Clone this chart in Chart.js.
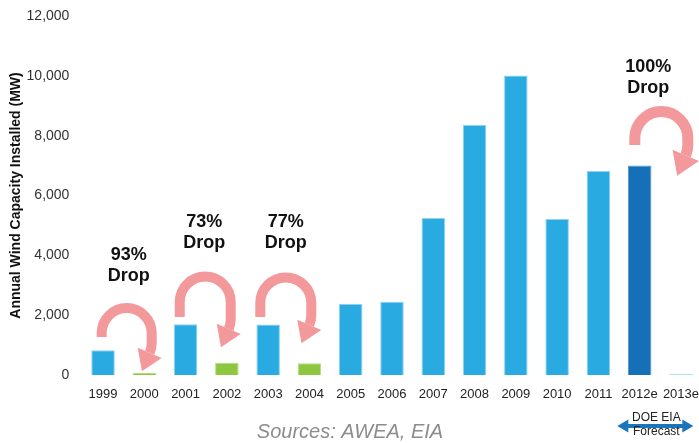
<!DOCTYPE html>
<html>
<head>
<meta charset="utf-8">
<script src="https://cdn.jsdelivr.net/npm/chart.js@4/dist/chart.umd.min.js"></script>
<style>
  html, body { margin: 0; padding: 0; overflow: hidden; background: #fff; }
  canvas { display: block; }
</style>
</head>
<body>
<canvas id="chart" width="704" height="443"></canvas>
<script>
'use strict';

// data
const years = ['1999', '2000', '2001', '2002', '2003', '2004', '2005', '2006',
  '2007', '2008', '2009', '2010', '2011', '2012e', '2013e'];
const installedMW = [830, 67, 1697, 410, 1687, 389, 2380, 2450,
  5249, 8358, 10010, 5214, 6816, 7000, 40];
const dropLabels = ['93%', '73%', '77%', '100%'];
const dropFrom = ['1999', '2001', '2003', '2012e'];

const blue = '#29abe2', green = '#8dc63f', navy = '#1570b8', pale = '#a8d8f2';
const pink = '#f4999b';
const barColors = [blue, green, blue, green, blue, green, blue, blue,
  blue, blue, blue, blue, blue, navy, pale];
const barBorders = barColors.map(c => c === green ? '#b5dc86' : c === navy ? '#4f93cc' : '#8fd2f1');

// where each curled arrow and its caption sit (value units on y, px shift on x)
const calloutPlace = [
  { arcAt: 1400, textAt: 4010, dx: 3, tx: 5, r: 25, lw: 10, leg: 4, drop: 10 },
  { arcAt: 2440, textAt: 5115, dx: -1, tx: -2, r: 25.5, lw: 10, leg: 15, drop: 17 },
  { arcAt: 2410, textAt: 5115, dx: -3, tx: -3, r: 25.5, lw: 10, leg: 14, drop: 12 },
  { arcAt: 7920, textAt: 10300, dx: 1, tx: -12, r: 26.5, lw: 11, leg: 7, drop: 7 }
];

function drawCurl(ctx, cx, cy, p) {
  const turn = 0.4, r = p.r;
  ctx.strokeStyle = pink;
  ctx.lineWidth = p.lw;
  ctx.lineJoin = 'round';
  ctx.beginPath();
  ctx.moveTo(cx - r, cy + p.leg);
  ctx.lineTo(cx - r, cy);
  ctx.arc(cx, cy, r, Math.PI, 2 * Math.PI);
  ctx.lineTo(cx + r, cy + p.drop);
  ctx.arc(cx, cy + p.drop, r, 0, turn);
  ctx.stroke();

  const ex = cx + r * Math.cos(turn), ey = cy + p.drop + r * Math.sin(turn);
  const nx = Math.cos(turn), ny = Math.sin(turn);
  const half = p.lw * 1.3, len = p.lw * 2;
  ctx.fillStyle = pink;
  ctx.beginPath();
  ctx.moveTo(ex + nx * half, ey + ny * half);
  ctx.lineTo(ex - nx * half, ey - ny * half);
  ctx.lineTo(ex - ny * len, ey + nx * len);
  ctx.closePath();
  ctx.fill();
}

const callouts = {
  id: 'callouts',
  afterDatasetsDraw(chart) {
    const { ctx, scales: { x, y } } = chart;
    ctx.save();
    dropFrom.forEach((cat, i) => {
      const p = calloutPlace[i];
      const i0 = years.indexOf(cat);
      const mid = (x.getPixelForValue(i0) + x.getPixelForValue(i0 + 1)) / 2;
      drawCurl(ctx, mid + p.dx, y.getPixelForValue(p.arcAt), p);

      const ty = y.getPixelForValue(p.textAt);
      ctx.fillStyle = '#111';
      ctx.font = 'bold 18px "Liberation Sans", Arial, sans-serif';
      ctx.textAlign = 'center';
      ctx.textBaseline = 'middle';
      ctx.fillText(dropLabels[i], mid + p.tx, ty);
      ctx.fillText('Drop', mid + p.tx, ty + 21);
    });

    // forecast marker under the last two years
    const fx = (x.getPixelForValue(13) + x.getPixelForValue(14)) / 2 - 4;
    const fy = 426;
    ctx.strokeStyle = '#1a75bc';
    ctx.fillStyle = '#1a75bc';
    ctx.lineWidth = 4;
    ctx.beginPath();
    ctx.moveTo(fx - 30, fy);
    ctx.lineTo(fx + 28, fy);
    ctx.stroke();
    [[fx - 39, 1], [fx + 37, -1]].forEach(([tipX, dir]) => {
      ctx.beginPath();
      ctx.moveTo(tipX, fy);
      ctx.lineTo(tipX + dir * 11, fy - 6.5);
      ctx.lineTo(tipX + dir * 11, fy + 6.5);
      ctx.closePath();
      ctx.fill();
    });
    ctx.fillStyle = '#222';
    ctx.font = '12px "Liberation Sans", Arial, sans-serif';
    ctx.fillText('DOE EIA', fx, 418);
    ctx.fillText('Forecast', fx, 432);

    ctx.fillStyle = '#8c8c8c';
    ctx.font = 'italic 20px "Liberation Sans", Arial, sans-serif';
    ctx.fillText('Sources: AWEA, EIA', 350, 432);
    ctx.restore();
  }
};

new Chart(document.getElementById('chart'), {
  type: 'bar',
  data: {
    labels: years,
    datasets: [{
      data: installedMW,
      backgroundColor: barColors,
      borderColor: barBorders,
      borderWidth: 1,
      categoryPercentage: 1,
      barPercentage: 0.57
    }]
  },
  options: {
    responsive: false,
    animation: false,
    devicePixelRatio: 1,
    layout: { padding: { top: 16, right: 2.4, bottom: 0, left: 0 } },
    plugins: { legend: { display: false }, tooltip: { enabled: false } },
    scales: {
      x: {
        grid: { display: false, drawTicks: false },
        border: { display: false },
        ticks: {
          autoSkip: false,
          maxRotation: 0,
          padding: 12,
          color: '#222',
          font: { family: '"Liberation Sans", Arial, sans-serif', size: 13 }
        },
        afterFit(scale) {
          scale.height = 68;
          scale.paddingLeft = 0;
          scale.paddingRight = 0;
        }
      },
      y: {
        min: 0,
        max: 12000,
        grid: { display: false, drawTicks: false },
        border: { display: false },
        ticks: {
          stepSize: 2000,
          padding: 13,
          color: '#333',
          font: { family: '"Liberation Sans", Arial, sans-serif', size: 14 },
          callback: v => v.toLocaleString('en-US')
        },
        title: {
          display: true,
          text: 'Annual Wind Capacity Installed (MW)',
          color: '#111',
          padding: { top: 7.6, bottom: 0 },
          font: { family: '"Liberation Sans", Arial, sans-serif', size: 14, weight: 'bold' }
        },
        afterFit(scale) {
          scale.width = 82.4;
          scale.paddingTop = 0;
          scale.paddingBottom = 0;
        }
      }
    }
  },
  plugins: [callouts]
});
</script>
</body>
</html>
